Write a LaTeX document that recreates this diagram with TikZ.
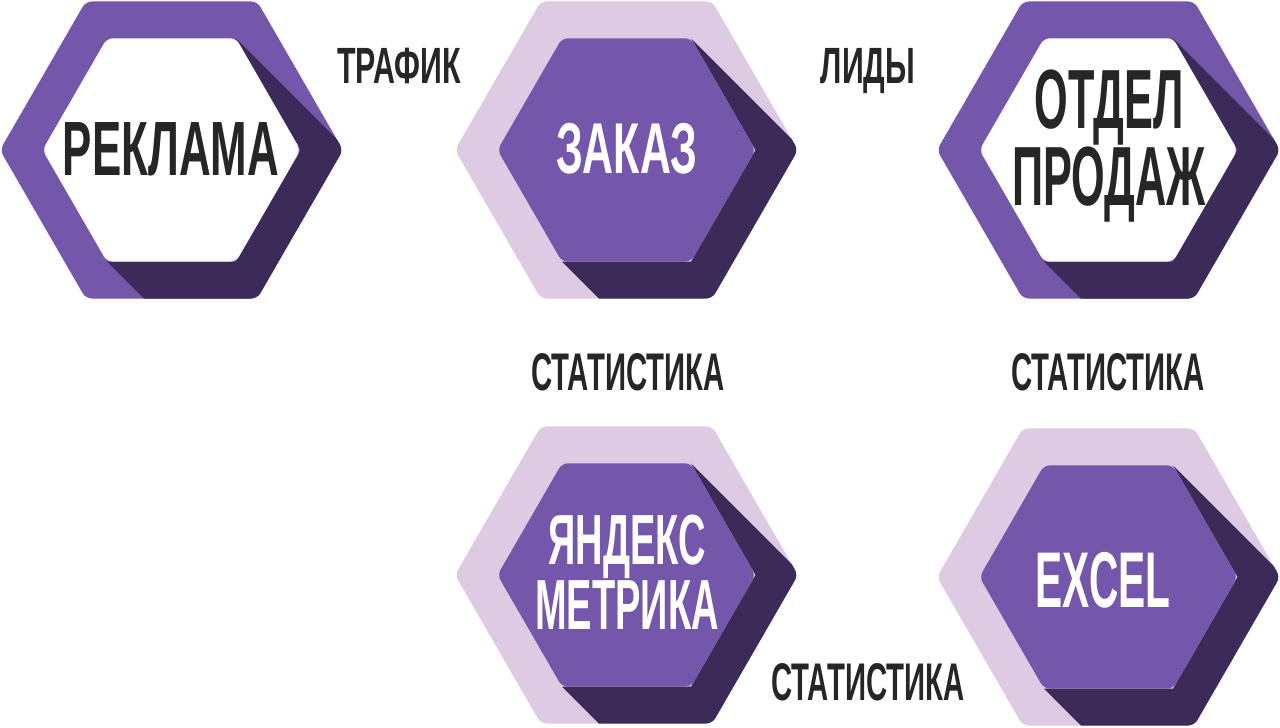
\documentclass[tikz,border=0pt]{standalone}
\usepackage{fontspec}
\newfontfamily\cond{Liberation Sans}[FakeStretch=0.57]
\newfontfamily\condN{Liberation Sans}[FakeStretch=0.515]
\newfontfamily\condM{Liberation Sans}[FakeStretch=0.535]
\newfontfamily\condS{Liberation Sans}[FakeStretch=0.553]
\newfontfamily\condW{Liberation Sans}[FakeStretch=0.595]
\definecolor{purp}{HTML}{7457AA}
\definecolor{shadowc}{HTML}{3C2B59}
\definecolor{lav}{HTML}{DFCAE4}
\definecolor{ink}{HTML}{262626}
\newcommand\hexpts[3]{({#1+#3},{#2}) -- ({#1+0.5*#3},{#2+0.866*#3}) -- ({#1-0.5*#3},{#2+0.866*#3}) -- ({#1-#3},{#2}) -- ({#1-0.5*#3},{#2-0.866*#3}) -- ({#1+0.5*#3},{#2-0.866*#3}) -- cycle}
\newcommand\hexunit[4]{%
  \fill[#3, rounded corners=6] \hexpts{#1}{#2}{171.5};
  \begin{scope}
    \clip[rounded corners=6] \hexpts{#1}{#2}{171.5};
    \fill[shadowc] ({#1+64.5},{#2-111.7}) -- ({#1+129},{#2}) -- ({#1+64.5},{#2+111.7}) -- ({#1-64.5},{#2+111.7}) -- ({#1+135.5},{#2+311.7}) -- ({#1+264.5},{#2+88.3}) -- cycle;
  \end{scope}
  \fill[#4, rounded corners=6] \hexpts{#1}{#2}{129};
}
\tikzset{
  lbl/.style={anchor=base, inner sep=0pt, text=ink},
  big/.style={anchor=base, inner sep=0pt, align=center},
}
\begin{document}
\begin{tikzpicture}[x=1pt,y=-1pt]
\useasboundingbox[fill=white] (0,0) rectangle (1280,728);
\hexunit{171.5}{150}{purp}{white}
\hexunit{626.5}{150}{lav}{purp}
\hexunit{1108.5}{150}{purp}{white}
\hexunit{626.5}{575}{lav}{purp}
\hexunit{1108.5}{577}{lav}{purp}
\node[big, text=ink, font=\cond\bfseries\fontsize{77}{77}\selectfont] (reklama) at (171,175) {РЕКЛАМА};
\node[big, text=white, font=\condW\bfseries\fontsize{72}{72}\selectfont] (zakaz) at (627,173) {ЗАКАЗ};
\node[big, text=ink, font=\condN\bfseries\fontsize{84}{68}\selectfont, anchor=north] (otdel) at (1109,70) {ОТДЕЛ\\ПРОДАЖ};
\node[big, text=white, font=\condM\bfseries\fontsize{71}{65}\selectfont, anchor=north] (yandex) at (627,515) {ЯНДЕКС\\МЕТРИКА};
\node[big, text=white, font=\condN\bfseries\fontsize{79}{79}\selectfont] (excel) at (1103,607) {EXCEL};
\node[lbl, font=\condW\bfseries\fontsize{51}{51}\selectfont] (trafik) at (399,83) {ТРАФИК};
\node[lbl, font=\condW\bfseries\fontsize{51}{51}\selectfont] (lidy) at (868,83) {ЛИДЫ};
\node[lbl, font=\condS\bfseries\fontsize{53}{53}\selectfont] (stat1) at (628,390) {СТАТИСТИКА};
\node[lbl, font=\condS\bfseries\fontsize{53}{53}\selectfont] (stat2) at (1108,390) {СТАТИСТИКА};
\node[lbl, font=\condS\bfseries\fontsize{53}{53}\selectfont] (stat3) at (868,700) {СТАТИСТИКА};
\end{tikzpicture}
\end{document}
